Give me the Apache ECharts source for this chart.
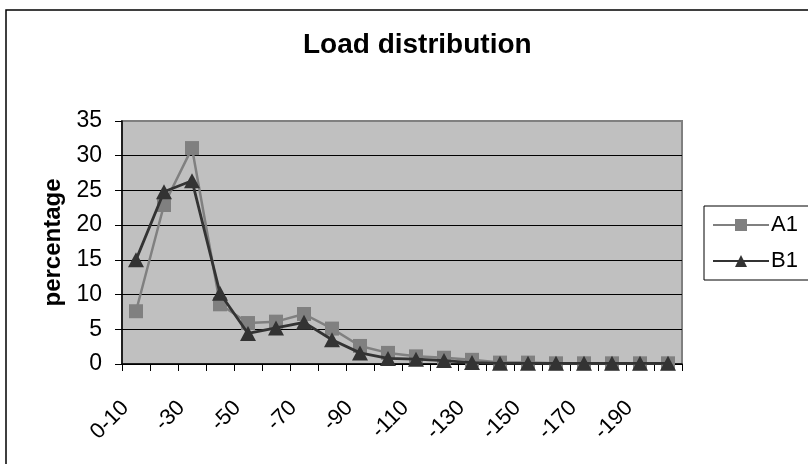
<!DOCTYPE html>
<html>
<head>
<meta charset="utf-8">
<script src="https://cdn.jsdelivr.net/npm/echarts@6/dist/echarts.min.js"></script>
<style>
  html, body { margin: 0; padding: 0; background: #fff; }
  #chart { width: 808px; height: 464px; }
</style>
</head>
<body>
<div id="chart"></div>
<script>
// Load bands (category labels), every second one is printed on the axis
const categories = ['0-10', '-20', '-30', '-40', '-50', '-60', '-70', '-80', '-90', '-100',
  '-110', '-120', '-130', '-140', '-150', '-160', '-170', '-180', '-190', '-200'];

// Percentage of load per band
const seriesA1 = [7.6, 22.9, 31.1, 8.6, 5.9, 6.1, 7.2, 5.1, 2.6, 1.6,
  1.1, 0.9, 0.6, 0.2, 0.2, 0.1, 0.1, 0.1, 0.1, 0.1];
const seriesB1 = [15.0, 24.8, 26.4, 10.2, 4.4, 5.2, 6.0, 3.5, 1.6, 0.8,
  0.7, 0.5, 0.2, 0.1, 0.1, 0.1, 0.1, 0.1, 0.1, 0.1];

const yTicks = { min: 0, max: 35, interval: 5 };

const font = 'Liberation Sans, Arial, sans-serif';

const chart = echarts.init(document.getElementById('chart'), null, { renderer: 'canvas' });

chart.setOption({
  backgroundColor: '#ffffff',
  animation: false,
  textStyle: { fontFamily: font, color: '#000' },
  title: {
    text: 'Load distribution',
    left: 303,
    top: 31,
    padding: 0,
    textStyle: { fontFamily: font, fontSize: 28, fontWeight: 'bold', color: '#000' }
  },
  graphic: [{
    type: 'rect',
    shape: { x: 6, y: 10, width: 830, height: 480 },
    style: { fill: 'none', stroke: '#000', lineWidth: 1.5 },
    silent: true,
    z: -1
  }],
  legend: {
    orient: 'vertical',
    left: 704,
    top: 206,
    padding: [8, 60, 8, 8],
    itemGap: 14,
    itemWidth: 56,
    itemHeight: 15,
    borderColor: '#000',
    borderWidth: 1,
    backgroundColor: '#fff',
    textStyle: { fontFamily: font, fontSize: 22, color: '#000', padding: [0, 0, 0, -3] },
    data: ['A1', 'B1']
  },
  grid: {
    show: true,
    left: 122,
    top: 121,
    right: 126,
    bottom: 100,
    backgroundColor: '#c0c0c0',
    borderColor: '#808080',
    borderWidth: 2,
    containLabel: false
  },
  xAxis: {
    type: 'category',
    data: categories,
    boundaryGap: true,
    axisLine: { show: true, lineStyle: { color: '#000', width: 1.5 } },
    axisTick: { show: true, length: 7, interval: 0, lineStyle: { color: '#000', width: 1 } },
    axisLabel: {
      interval: 1,
      rotate: 45,
      margin: 30,
      padding: [0, 15, 0, 0],
      fontFamily: font,
      fontSize: 22,
      color: '#000'
    },
    splitLine: { show: false }
  },
  yAxis: {
    type: 'value',
    min: yTicks.min,
    max: yTicks.max,
    interval: yTicks.interval,
    name: 'percentage',
    nameLocation: 'middle',
    nameRotate: 90,
    nameGap: 57,
    nameTextStyle: { fontFamily: font, fontSize: 24, fontWeight: 'bold', color: '#000' },
    axisLine: { show: true, lineStyle: { color: '#000', width: 1.5 } },
    axisTick: { show: true, length: 7, lineStyle: { color: '#000', width: 1 } },
    axisLabel: { margin: 20, fontFamily: font, fontSize: 23, color: '#000' },
    splitLine: {
      show: true,
      lineStyle: {
        color: ['#000', '#000', '#000', '#000', '#000', '#000', '#000', '#808080'],
        width: 1.2
      }
    }
  },
  series: [
    {
      name: 'A1',
      type: 'line',
      data: seriesA1,
      symbol: 'rect',
      symbolSize: 14,
      showAllSymbol: true,
      itemStyle: { color: '#808080' },
      lineStyle: { color: '#808080', width: 2.5 },
      z: 2
    },
    {
      name: 'B1',
      type: 'line',
      data: seriesB1,
      symbol: 'triangle',
      symbolSize: [16, 15],
      showAllSymbol: true,
      itemStyle: { color: '#333333' },
      lineStyle: { color: '#333333', width: 2.8 },
      z: 3
    }
  ]
});
</script>
</body>
</html>
